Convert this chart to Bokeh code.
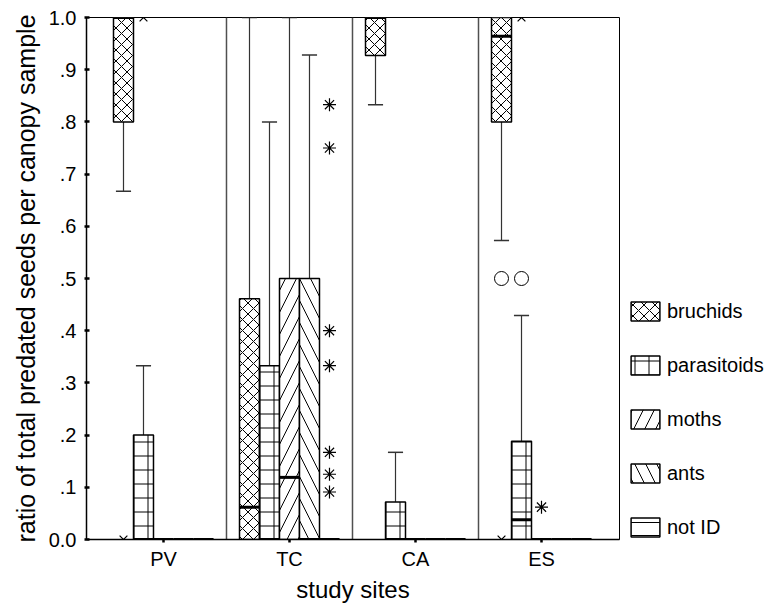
import math
from bokeh.plotting import figure
from bokeh.layouts import row
from bokeh.models import (ColumnDataSource, Range1d, FixedTicker, Legend, LegendItem)
from bokeh.embed import file_html
from bokeh.resources import INLINE

# ---------------- data ----------------
sites = ["PV", "TC", "CA", "ES"]
series = ["bruchids", "parasitoids", "moths", "ants", "not ID"]

# box statistics per series, one value per site (PV, TC, CA, ES)
bruchids_q1 = [0.80, 0.0, 0.927, 0.80]
bruchids_med = [1.0, 0.062, 1.0, 0.964]
bruchids_q3 = [1.0, 0.461, 1.0, 1.0]
bruchids_lo = [0.667, 0.0, 0.833, 0.573]
bruchids_hi = [1.0, 1.0, 1.0, 1.0]

parasitoids_q1 = [0.0, 0.0, 0.0, 0.0]
parasitoids_med = [0.0, 0.0, 0.0, 0.038]
parasitoids_q3 = [0.20, 0.333, 0.072, 0.188]
parasitoids_lo = [0.0, 0.0, 0.0, 0.0]
parasitoids_hi = [0.333, 0.80, 0.167, 0.429]

moths_q1 = [0.0, 0.0, 0.0, 0.0]
moths_med = [0.0, 0.119, 0.0, 0.0]
moths_q3 = [0.0, 0.50, 0.0, 0.0]
moths_lo = [0.0, 0.0, 0.0, 0.0]
moths_hi = [0.0, 1.0, 0.0, 0.0]

ants_q1 = [0.0, 0.0, 0.0, 0.0]
ants_med = [0.0, 0.0, 0.0, 0.0]
ants_q3 = [0.0, 0.50, 0.0, 0.0]
ants_lo = [0.0, 0.0, 0.0, 0.0]
ants_hi = [0.0, 0.928, 0.0, 0.0]

notid_q1 = [0.0, 0.0, 0.0, 0.0]
notid_med = [0.0, 0.0, 0.0, 0.0]
notid_q3 = [0.0, 0.0, 0.0, 0.0]
notid_lo = [0.0, 0.0, 0.0, 0.0]
notid_hi = [0.0, 0.0, 0.0, 0.0]

# outliers (circles)
outlier_site = ["ES", "ES"]
outlier_series = ["bruchids", "parasitoids"]
outlier_value = [0.50, 0.50]

# extremes drawn as "x"
xmark_site = ["PV", "PV", "ES", "ES"]
xmark_series = ["bruchids", "parasitoids", "bruchids", "parasitoids"]
xmark_value = [0.0, 1.0, 0.0, 1.0]

# extremes drawn as asterisks
star_site = ["TC", "TC", "TC", "TC", "TC", "TC", "TC", "ES"]
star_series = ["not ID"] * 7 + ["moths"]
star_value = [0.833, 0.75, 0.40, 0.333, 0.167, 0.125, 0.091, 0.062]

y_ticks = [0, 0.1, 0.2, 0.3, 0.4, 0.5, 0.6, 0.7, 0.8, 0.9, 1]
y_tick_labels = ["0.0", ".1", ".2", ".3", ".4", ".5", ".6", ".7", ".8", ".9", "1.0"]

stats = {
    "bruchids": (bruchids_q1, bruchids_med, bruchids_q3, bruchids_lo, bruchids_hi),
    "parasitoids": (parasitoids_q1, parasitoids_med, parasitoids_q3, parasitoids_lo, parasitoids_hi),
    "moths": (moths_q1, moths_med, moths_q3, moths_lo, moths_hi),
    "ants": (ants_q1, ants_med, ants_q3, ants_lo, ants_hi),
    "not ID": (notid_q1, notid_med, notid_q3, notid_lo, notid_hi),
}

# ---------------- style ----------------
FONT = "Liberation Sans"
box_w = 0.1587
cap_w = 0.12
offsets = {s: (k - 2) * box_w for k, s in enumerate(series)}
hatch = {
    "bruchids": ("diagonal_cross", 11),
    "parasitoids": ("cross", 14),
    "moths": ("right_diagonal_line", 22),
    "ants": ("left_diagonal_line", 22),
    "not ID": ("horizontal_line", 13),
}
whisker_color = "#333333"

p = figure(width=620, height=605, output_backend="svg", toolbar_location=None,
           x_range=Range1d(-0.611, 3.619), y_range=Range1d(0, 1),
           min_border_left=86, min_border_right=1, min_border_top=17,
           min_border_bottom=66)
p.background_fill_color = "white"
p.border_fill_color = "white"
p.outline_line_color = "black"
p.outline_line_width = 1
p.xgrid.visible = False
p.ygrid.visible = False

site_idx = {s: i for i, s in enumerate(sites)}

# separators between sites
sep_x = [i + 0.5 for i in range(len(sites) - 1)]
p.segment(x0=sep_x, x1=sep_x, y0=[0] * len(sep_x), y1=[1] * len(sep_x),
          line_color="#505050", line_width=1.5)

for s in series:
    q1, med, q3, lo, hi = stats[s]
    xs = [i + offsets[s] for i in range(len(sites))]
    wx, wy0, wy1 = [], [], []
    cx0, cx1, cy = [], [], []
    for x, a, b, l, h in zip(xs, q1, q3, lo, hi):
        if h > b:
            wx.append(x); wy0.append(b); wy1.append(h)
            cx0.append(x - cap_w / 2); cx1.append(x + cap_w / 2); cy.append(h)
        if l < a:
            wx.append(x); wy0.append(l); wy1.append(a)
            cx0.append(x - cap_w / 2); cx1.append(x + cap_w / 2); cy.append(l)
    if wx:
        p.segment(x0=wx, x1=wx, y0=wy0, y1=wy1, line_color=whisker_color, line_width=1.2)
        p.segment(x0=cx0, x1=cx1, y0=cy, y1=cy, line_color=whisker_color, line_width=1.5)
    src = ColumnDataSource(dict(x=xs, q1=q1, q3=q3))
    hp, hs = hatch[s]
    p.vbar(x="x", width=box_w, bottom="q1", top="q3", source=src,
           fill_color="white", line_color="black", line_width=1.5,
           hatch_pattern=hp, hatch_scale=hs, hatch_color="black", hatch_weight=1)
    p.segment(x0=[x - box_w / 2 for x in xs], x1=[x + box_w / 2 for x in xs],
              y0=med, y1=med, line_color="black", line_width=3)

def pos(site_list, series_list):
    return [site_idx[a] + offsets[b] for a, b in zip(site_list, series_list)]

p.scatter(pos(outlier_site, outlier_series), outlier_value, marker="circle",
          size=14, fill_color="white", line_color="black", line_width=1)
p.scatter(pos(xmark_site, xmark_series), xmark_value, marker="x",
          size=11, line_color="black", line_width=1.2)
p.scatter(pos(star_site, star_series), star_value, marker="asterisk",
          angle=math.pi / 2, size=13, line_color="black", line_width=1.2)

# axes
p.yaxis.ticker = FixedTicker(ticks=y_ticks)
p.yaxis.major_label_overrides = {t: l for t, l in zip(y_ticks, y_tick_labels)}
p.yaxis.minor_tick_line_color = None
p.yaxis.major_tick_in = 3
p.yaxis.major_tick_out = 2
p.yaxis.major_tick_line_width = 2.5
p.yaxis.major_label_standoff = 8
p.yaxis.axis_label = "ratio of total predated seeds per canopy sample"
p.yaxis.axis_label_standoff = 6
p.yaxis.axis_label_text_font_size = "25px"

p.xaxis.ticker = FixedTicker(ticks=list(range(len(sites))))
p.xaxis.major_label_overrides = {i: s for i, s in enumerate(sites)}
p.xaxis.minor_tick_line_color = None
p.xaxis.major_tick_in = 0
p.xaxis.major_tick_out = 3
p.xaxis.major_tick_line_width = 2.5
p.xaxis.major_label_standoff = 5
p.xaxis.axis_label = "study sites"
p.xaxis.axis_label_standoff = 3
p.xaxis.axis_label_text_font_size = "24px"

for ax in (p.xaxis, p.yaxis):
    ax.axis_line_color = "black"
    ax.axis_line_width = 1.5
    ax.major_tick_line_color = "black"
    ax.major_label_text_font = FONT
    ax.major_label_text_font_size = "20px"
    ax.major_label_text_color = "black"
    ax.axis_label_text_font = FONT
    ax.axis_label_text_font_style = "normal"
    ax.axis_label_text_color = "black"

# ---------------- legend panel ----------------
lg = figure(width=151, height=605, output_backend="svg", toolbar_location=None,
            x_range=Range1d(0, 1), y_range=Range1d(0, 1),
            min_border_left=0, min_border_right=0, min_border_top=0,
            min_border_bottom=0, x_axis_type=None, y_axis_type=None)
lg.outline_line_color = None
lg.xgrid.visible = False
lg.ygrid.visible = False
lg.background_fill_color = "white"
lg.border_fill_color = "white"

# hidden proxy renderers (one per series) that only supply the legend swatches
proxy_src = ColumnDataSource(dict(x=[0.5], b=[0.5], t=[0.5]))
items = []
for s in series:
    hp, hs = hatch[s]
    r = lg.vbar(x="x", bottom="b", top="t", width=0.1, source=proxy_src,
                fill_color="white", line_color="black",
                line_width=1.5, hatch_pattern=hp, hatch_scale=hs,
                hatch_color="black", hatch_weight=1, visible=False)
    items.append(LegendItem(label=s, renderers=[r]))

legend = Legend(items=items, location=(7, 0), orientation="vertical",
                glyph_width=36, glyph_height=24, spacing=30, padding=0, margin=0,
                label_standoff=4, label_text_font=FONT, label_text_font_size="20px",
                label_text_color="black", border_line_color=None,
                background_fill_alpha=0, inactive_fill_alpha=0)
lg.add_layout(legend, "center")

layout = row(p, lg, spacing=0)
open("out.html", "w").write(file_html(layout, INLINE))
